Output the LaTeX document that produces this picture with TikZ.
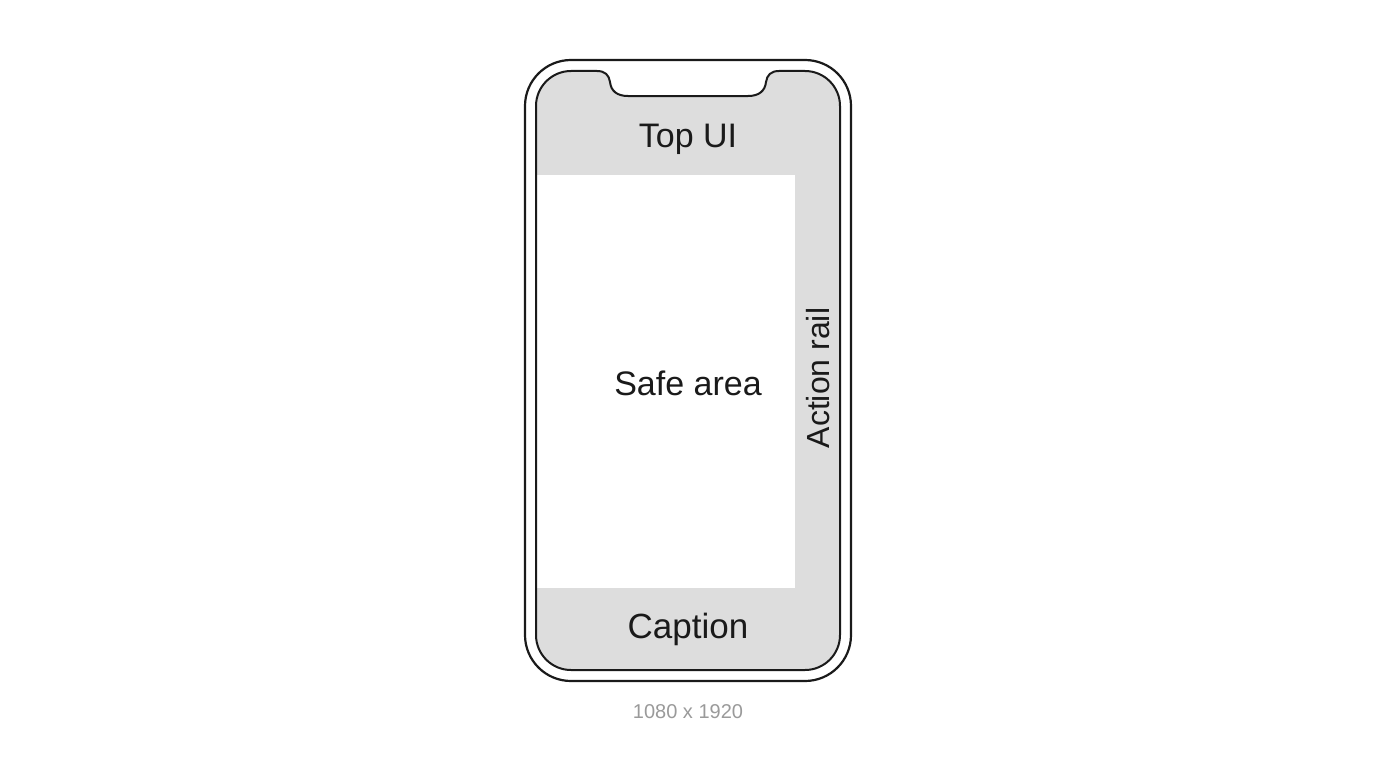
\documentclass[tikz,border=0pt]{standalone}
\usepackage{fontspec}
\setmainfont{Liberation Sans}
\definecolor{panelgrey}{HTML}{DDDDDD}
\definecolor{inkc}{HTML}{1A1A1A}
\definecolor{dimc}{HTML}{9A9A9A}
\begin{document}
\begin{tikzpicture}[x=1pt,y=-1pt,
  lbl/.style={inner sep=0pt, text=inkc, font=\fontsize{34}{40}\selectfont, anchor=base},
  frame/.style={draw=inkc, line width=2pt}]
\useasboundingbox (0,0) rectangle (1376,768);
\fill[white] (0,0) rectangle (1376,768);
% outer body
\draw[frame, line width=2.2pt, rounded corners=46pt] (525,60) rectangle (851,681);
\def\screenpath{(571,71) -- (597,71) .. controls (605,71) and (609,75) .. (610,82) .. controls (611,91) and (617,96) .. (628,96) -- (748,96) .. controls (759,96) and (765,91) .. (766,82) .. controls (767,75) and (771,71) .. (779,71) -- (805,71) .. controls (824.3,71) and (840,86.7) .. (840,106) -- (840,635) .. controls (840,654.3) and (824.3,670) .. (805,670) -- (571,670) .. controls (551.7,670) and (536,654.3) .. (536,635) -- (536,106) .. controls (536,86.7) and (551.7,71) .. (571,71) -- cycle}
\begin{scope}
  \clip \screenpath;
  \fill[panelgrey] (520,60) rectangle (860,690);
  \fill[white] (530,175) rectangle (795,588);
\end{scope}
\draw[frame] \screenpath;
\node[lbl] (top) at (688,147) {Top UI};
\node[lbl] (safe) at (688,395) {Safe area};
\node[lbl, font=\fontsize{35}{41}\selectfont] (cap) at (688,638) {Caption};
\node[lbl, font=\fontsize{32}{38}\selectfont, rotate=90] (rail) at (829,378) {Action rail};
\node[inner sep=0pt, anchor=base, text=dimc, font=\fontsize{20}{24}\selectfont] (dim) at (688,718) {1080 x 1920};
\end{tikzpicture}
\end{document}
